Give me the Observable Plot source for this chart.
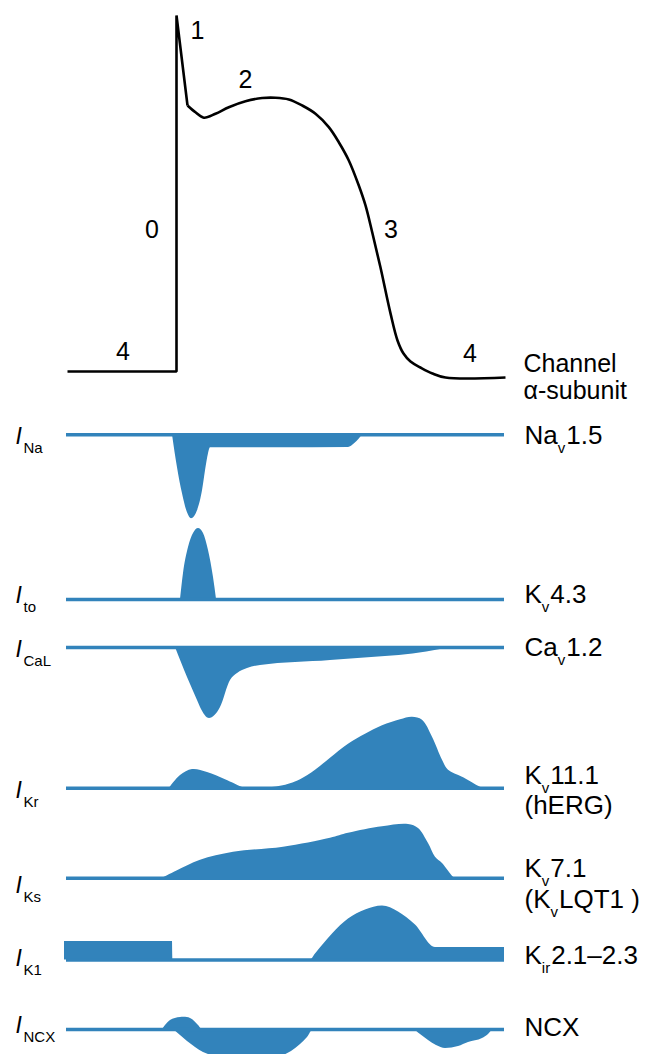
<!DOCTYPE html>
<html>
<head>
<meta charset="utf-8">
<script src="https://cdn.jsdelivr.net/npm/d3@7"></script>
<script src="https://cdn.jsdelivr.net/npm/@observablehq/plot@0.6"></script>
<style>
  html, body { margin: 0; padding: 0; background: #fff; }
  #chart svg { display: block; }
</style>
</head>
<body>
<div id="chart"></div>
<script>
// ================= DATA (time in ms from upstroke; voltage in mV; currents in arbitrary units) =================
const apTime    = [-109, 0, 0, 11, 19, 27.3, 39, 52.3, 69, 85.7, 99, 112.3, 125.7, 139, 152.3, 162.3, 172.3, 182.3, 189, 195.7, 204, 214, 221, 227, 234, 244, 256, 269, 329];
const apVoltage = [-85, -85, 40, 8.4, 6.0, 4.1, 5.5, 7.8, 9.9, 11.0, 11.1, 10.5, 8.4, 5.5, 0.8, -4.5, -10.9, -19.7, -26.7, -36.1, -48.5, -64.6, -74.1, -78.7, -81.5, -83.6, -85.7, -87.1, -87.1];

const phaseNames   = ["4", "0", "1", "2", "3", "4"];
const phaseTime    = [-53.5, -24.5, 21, 69, 214.5, 293.5];
const phaseVoltage = [-81.1, -38, 31.9, 14.4, -38, -81.8];

const naTime    = [-4, 1, 6, 11, 15, 21, 26, 29, 32, 34, 100, 172, 178, 183, 186];
const naCurrent = [0, -33, -59, -78, -84, -76, -56, -36, -19, -13, -13, -12.7, -9, -4, 0];

const toTime    = [4, 7, 12, 17, 22, 27, 32, 37, 40];
const toCurrent = [0, 26, 52, 66, 71, 66, 49, 22, 0];

const calTime    = [-1, 11, 21, 24, 33, 44, 54, 61, 71, 84, 154, 264, 265];
const calCurrent = [0, -30, -53, -60, -71, -60, -33, -26, -21, -18, -13, -2, 0];

const krTime    = [-7, 4, 16, 31, 49, 67, 70, 87, 104, 114, 124, 139, 154, 172, 189, 206, 224, 236, 246, 256, 266, 272, 286, 302, 306];
const krCurrent = [0, 12.7, 18.7, 15.7, 8.5, 0.5, 0, 0, 2, 4.5, 8.5, 18, 30, 44, 54, 62.5, 68.5, 71, 68, 51, 28, 18, 11, 2, 0];

const ksTime    = [-14, 0, 24, 57, 107, 154, 172, 206, 232, 242, 252, 259, 266, 277, 279];
const ksCurrent = [0, 7, 18, 26, 31, 40, 45, 51.5, 53.7, 49.7, 34.7, 21, 14.7, 1, 0];

const k1Time    = [-112, -4, -3.5, 134, 139, 156, 172, 189, 206, 222, 239, 259, 328];
const k1Current = [18.5, 18.5, 0, 0, 6, 26, 41, 50, 54, 48, 35, 12.5, 12.5];

const ncxOutTime    = [-14, -6, 4, 14, 22, 25];
const ncxOutCurrent = [0, 9, 12, 11, 4, 0];
const ncxInTime    = [-3, 4, 11, 19, 27, 35, 60, 85, 107, 115, 124, 131, 137, 236, 244, 252, 260, 269, 282, 292, 306, 312, 316];
const ncxInCurrent = [0, -6, -12, -18, -23, -26, -30, -30, -26, -22, -15, -8, 0, 0, -5, -11, -16, -19, -17, -13, -9, -5, 0];

const currentNames = ["Na", "to", "CaL", "Kr", "Ks", "K1", "NCX"];
// subunit labels: [text, isSubscript] pieces, one list per line
const subunitLabels = [
  [[["Na", 0], ["v", 1], ["1.5", 0]]],
  [[["K", 0], ["v", 1], ["4.3", 0]]],
  [[["Ca", 0], ["v", 1], ["1.2", 0]]],
  [[["K", 0], ["v", 1], ["11.1", 0]], [["(hERG)", 0]]],
  [[["K", 0], ["v", 1], ["7.1", 0]], [["(K", 0], ["v", 1], ["LQT1 )", 0]]],
  [[["K", 0], ["ir", 1], ["2.1–2.3", 0]]],
  [[["NCX", 0]]]
];
const headerLines = ["Channel", "α-subunit"];

// ================= LAYOUT =================
const W = 645, H = 1054;
const FONT = "'Liberation Sans', Arial, Helvetica, sans-serif";
const BLUE = "#3283bb";
const X0 = 176;                       // pixel of t = 0
const AP_REST_PX = 371, MV_PER_PX = 0.3511;
const apL = v => H - AP_REST_PX + (v + 85) / MV_PER_PX;
const pxL = p => H - p;               // pixel row -> layout value
const trackBasePx = [434.3, 599, 647, 787.7, 877.7, 959.5, 1029];
const leftLabelPx = [443, 602, 656, 797, 892, 965, 1032];
const rightLabelPx = [[443], [602], [655], [783, 813], [876, 907], [963], [1035]];
const lineStart = -110, lineEnd = 328;
const labelT = 348;

const ctx = document.createElement("canvas").getContext("2d");
function textWidth(str, size, style) {
  ctx.font = `${style || "normal"} ${size}px ${FONT}`;
  return ctx.measureText(str).width;
}
function richText(pieces, t, L, size, subSize, subShift, style) {
  const marks = [];
  let dx = 0;
  for (const [str, sub] of pieces) {
    const s = sub ? subSize : size;
    marks.push(Plot.text([{t, L}], {
      x: "t", y: "L", text: () => str, dx, dy: sub ? subShift : 0,
      fontSize: s, fontFamily: FONT, fontStyle: sub ? "normal" : (style || "normal"),
      textAnchor: "start", lineAnchor: "bottom", fill: "#000"
    }));
    dx += textWidth(str, s, sub ? "normal" : style) + (sub ? 1 : 0);
  }
  return marks;
}

const series = [
  [[naTime, naCurrent, "monotone-x"]],
  [[toTime, toCurrent, "monotone-x"]],
  [[calTime, calCurrent, "monotone-x"]],
  [[krTime, krCurrent, "catmull-rom"]],
  [[ksTime, ksCurrent, "catmull-rom"]],
  [[k1Time, k1Current, "monotone-x"]],
  [[ncxOutTime, ncxOutCurrent, "catmull-rom"], [ncxInTime, ncxInCurrent, "monotone-x"]]
];

const marks = [];

// action potential
const ap = apTime.map((t, i) => ({t, v: apVoltage[i]}));
const apStyle = {x: "t", y: d => apL(d.v), stroke: "#000", strokeWidth: 2.6, strokeLinejoin: "miter", strokeLinecap: "butt"};
marks.push(Plot.line(ap.slice(0, 4), {...apStyle, curve: "linear"}));
marks.push(Plot.line(ap.slice(3), {...apStyle, curve: "catmull-rom"}));
marks.push(Plot.text(phaseNames.map((s, i) => ({s, t: phaseTime[i], v: phaseVoltage[i]})), {
  x: "t", y: d => apL(d.v), text: "s", fontSize: 25, fontFamily: FONT, textAnchor: "middle", lineAnchor: "bottom", fill: "#000"
}));
headerLines.forEach((s, i) => marks.push(...richText([[s, 0]], labelT - 1, pxL([371.7, 398.3][i]), 25, 15, 9)));

// current tracks
currentNames.forEach((name, k) => {
  const baseL = pxL(trackBasePx[k]);
  for (const [ts, is, curve] of series[k]) {
    const data = ts.map((t, i) => ({t, c: is[i]}));
    marks.push(Plot.areaY(data, {x: "t", y1: () => baseL, y2: d => baseL + d.c, fill: BLUE, curve}));
  }
  marks.push(Plot.ruleY([baseL], {x1: lineStart, x2: lineEnd, stroke: BLUE, strokeWidth: 3.5}));
  // left label I_name
  marks.push(...richText([["I", 0]], -161, pxL(leftLabelPx[k]), 23, 15, 9, "italic"));
  marks.push(Plot.text([{t: -153, L: pxL(leftLabelPx[k])}], {
    x: "t", y: "L", text: () => name, dy: 9, fontSize: 15, fontFamily: FONT,
    textAnchor: "start", lineAnchor: "bottom", fill: "#000"
  }));
  // right label
  subunitLabels[k].forEach((line, j) => {
    marks.push(...richText(line, labelT, pxL(rightLabelPx[k][j]), 26, 15, 9));
  });
});

const chart = Plot.plot({
  width: W, height: H, margin: 0,
  x: {domain: [-X0, W - X0], range: [0, W], axis: null},
  y: {domain: [0, H], range: [H, 0], axis: null},
  style: {background: "#fff", overflow: "hidden"},
  marks
});
document.getElementById("chart").append(chart);
</script>
</body>
</html>
